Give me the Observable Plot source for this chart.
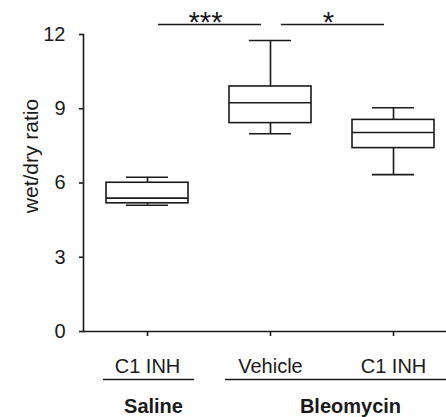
<!DOCTYPE html>
<html>
<head>
<meta charset="utf-8">
<script src="https://cdn.jsdelivr.net/npm/d3@7"></script>
<script src="https://cdn.jsdelivr.net/npm/@observablehq/plot@0.6"></script>
<style>
  html, body { margin: 0; padding: 0; background: #fff; }
  #chart svg { display: block; }
</style>
</head>
<body>
<div id="chart"></div>
<script>
// Lung wet/dry weight ratio by treatment (box = quartiles, whiskers = min/max)
const groups = ["Saline", "Bleomycin", "Bleomycin"];
const treatments = ["C1 INH", "Vehicle", "C1 INH"];
const whiskerLow = [5.10, 7.99, 6.34];
const q1 = [5.18, 8.42, 7.41];
const median = [5.39, 9.24, 8.04];
const q3 = [6.01, 9.90, 8.55];
const whiskerHigh = [6.23, 11.76, 9.04];
const yTicks = [0, 3, 6, 9, 12];

// Significance brackets between conditions
const compareFrom = ["Saline C1 INH", "Bleomycin Vehicle"];
const compareTo = ["Bleomycin Vehicle", "Bleomycin C1 INH"];
const stars = ["***", "*"];

const keys = groups.map((g, i) => `${g} ${treatments[i]}`);
const treatmentOf = new Map(keys.map((k, i) => [k, treatments[i]]));
const boxes = keys.map((key, i) => ({
  key, low: whiskerLow[i], q1: q1[i], median: median[i], q3: q3[i], high: whiskerHigh[i]
}));
const brackets = stars.map((s, i) => ({from: compareFrom[i], to: compareTo[i], label: s}));
const yTop = d3.max(yTicks);

const ink = "#1a1a1a";
const sw = 1.6;

const chart = Plot.plot({
  width: 446,
  height: 417,
  marginLeft: 83,
  marginRight: 0,
  marginTop: 34,
  marginBottom: 86,
  style: {fontFamily: "'Liberation Sans', Arial, sans-serif", color: ink, background: "#fff"},
  x: {type: "band", domain: keys, range: [105, 434], paddingInner: 0.336, paddingOuter: 0},
  y: {domain: [0, yTop]},
  marks: [
    // axes
    Plot.axisY({ticks: yTicks, tickSize: 4, tickPadding: 14, fontSize: 20, label: null, strokeWidth: sw}),
    Plot.axisX({tickSize: 5, tickPadding: 22, fontSize: 20, label: null, strokeWidth: sw,
      tickFormat: (k) => treatmentOf.get(k)}),
    Plot.frame({anchor: "left", stroke: ink, strokeWidth: sw}),
    Plot.ruleY([0], {stroke: ink, strokeWidth: sw}),
    Plot.text(["wet/dry ratio"], {frameAnchor: "left", textAnchor: "middle", rotate: -90,
      dx: -52, dy: -27, fontSize: 21, fill: ink}),

    // whiskers
    Plot.ruleX(boxes, {x: "key", y1: "low", y2: "q1", stroke: ink, strokeWidth: sw}),
    Plot.ruleX(boxes, {x: "key", y1: "q3", y2: "high", stroke: ink, strokeWidth: sw}),
    Plot.tickY(boxes, {x: "key", y: "low", inset: 20, stroke: ink, strokeWidth: sw}),
    Plot.tickY(boxes, {x: "key", y: "high", inset: 20, stroke: ink, strokeWidth: sw}),
    // boxes and medians
    Plot.barY(boxes, {x: "key", y1: "q1", y2: "q3", fill: "white", stroke: ink, strokeWidth: sw}),
    Plot.tickY(boxes, {x: "key", y: "median", stroke: ink, strokeWidth: sw}),

    // significance brackets
    Plot.ruleY(brackets, {x1: "from", x2: "to", y: () => yTop, dy: -10,
      insetLeft: 52, insetRight: 50, stroke: ink, strokeWidth: sw}),
    Plot.text(brackets, {x: "to", y: () => yTop, text: "label", dx: -65, dy: -3,
      lineAnchor: "bottom", fontSize: 29, fill: ink}),

    // group labels under the axis
    Plot.ruleY([{from: keys[0], to: keys[0]}], {x1: "from", x2: "to", y: () => 0, dy: 48,
      insetLeft: -3, insetRight: -6, stroke: ink, strokeWidth: sw}),
    Plot.ruleY([{from: keys[1], to: keys[2]}], {x1: "from", x2: "to", y: () => 0, dy: 48,
      insetLeft: -4, insetRight: -12, stroke: ink, strokeWidth: sw}),
    Plot.text([groups[0]], {x: () => keys[0], y: () => 0, text: (d) => d, dx: 6, dy: 81,
      lineAnchor: "bottom", fontSize: 20, fontWeight: "bold", fill: ink}),
    Plot.text([groups[1]], {x: () => keys[2], y: () => 0, text: (d) => d, dx: -43, dy: 81,
      lineAnchor: "bottom", fontSize: 20, fontWeight: "bold", fill: ink})
  ]
});

document.getElementById("chart").append(chart);
</script>
</body>
</html>
